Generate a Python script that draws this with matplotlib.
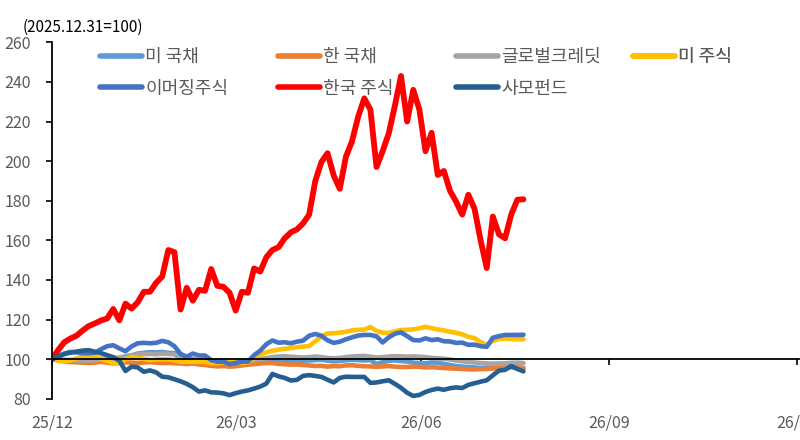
import matplotlib
matplotlib.use('Agg')
import matplotlib.pyplot as plt
import pandas as pd
from matplotlib.lines import Line2D

plt.rcParams['font.family'] = ['Noto Sans CJK KR', 'DejaVu Sans']

# ---------------- data ----------------
start_date = '2025-12-31'
step = '3D'

us_treasury = [100, 99.8, 99.6, 99.5, 99.4, 99.6, 99.8, 100, 100.2, 100, 99.8, 100.5, 101, 101.8, 102.8, 103.2,
               103.5, 103.4, 103.6, 103.2, 103, 101.5, 100.5, 100, 99.5, 99.3, 98.8, 98.5, 98.6, 98.4, 98.5, 98.7,
               99, 99, 99.2, 99.4, 99.5, 99, 98.5, 98.8, 98.9, 99.2, 99.3, 99.5, 99.7, 99.2, 98.9, 99.1,
               99.4, 99.6, 99.5, 99.3, 99.5, 97.5, 98.5, 99.1, 99.3, 99, 98.8, 98.2, 98, 97.9, 98.3, 98.2,
               97.6, 97, 96.5, 96.2, 96, 95.8, 95.5, 95.6, 95.4, 95.6, 95.8, 96, 95.8, 95.6]
kr_treasury = [100, 99.4, 98.8, 98.5, 98.4, 98.2, 98, 98.2, 98.6, 98.2, 97.8, 98, 98.4, 98.2, 98, 98.3,
               98.5, 98.2, 98, 98.1, 97.9, 97.8, 97.5, 97.8, 97.3, 97, 96.6, 96.3, 96.5, 96.2, 96.4, 96.8,
               97.2, 97.4, 97.8, 98, 98, 97.6, 97.4, 97.2, 97.3, 97, 96.8, 96.5, 96.6, 96.2, 96.5, 96.4,
               96.8, 96.9, 96.6, 96.4, 96.3, 96.1, 96.3, 96.5, 96.2, 96, 96, 96.2, 96.1, 95.8, 95.9, 95.7,
               95.5, 95.3, 95.2, 95, 94.8, 94.8, 94.9, 95, 95.3, 95.6, 95.8, 95.9, 95.6, 95.3]
global_credit = [100, 99.6, 99.3, 99.5, 99.4, 99.2, 99.3, 99.5, 99.8, 100.2, 100.5, 100.8, 101.5, 102, 102.4, 102.6,
                 102.6, 102.5, 102.7, 102.6, 102.3, 100.5, 99.5, 99.3, 99, 98.8, 98.5, 98.2, 98.4, 98, 98.1, 98.6,
                 99, 99.4, 100, 100.5, 101, 101.3, 101.5, 101.2, 101, 100.8, 101, 101.3, 101, 100.6, 100.4, 100.6,
                 101, 101.3, 101.5, 101.6, 101.2, 100.8, 101, 101.3, 101.5, 101.4, 101.2, 101.4, 101.2, 101, 100.6, 100.4,
                 100.2, 99.8, 99.3, 98.9, 98.6, 98.3, 98, 97.8, 97.7, 97.8, 97.9, 98.1, 98.2, 98]
us_equity = [100, 99.2, 98.8, 99.3, 100.3, 101.2, 101.4, 101.5, 100.3, 99, 98, 98.2, 99.8, 101, 100.6, 100.1,
             99.5, 99.8, 99.9, 99.9, 99.3, 98.7, 98.7, 98.7, 98.7, 98.6, 98, 97.9, 98.4, 99.1, 98.3, 98,
             98.4, 100.5, 102.3, 103.4, 104.2, 104.8, 105.2, 105.6, 106, 106.3, 106.6, 109, 111.5, 113, 113, 113.4,
             113.8, 114.5, 114.8, 114.9, 116.2, 114.2, 113.3, 113.2, 114, 114.7, 114.8, 115, 115.5, 116.3, 115.6, 115,
             114.5, 113.8, 113.3, 112.5, 111.3, 110.6, 108.5, 107.1, 109.2, 110.2, 110.4, 110.1, 110, 110]
em_equity = [100, 101.5, 102.8, 103.6, 103.4, 103, 103, 103.2, 105, 106.5, 107, 105.4, 104, 106.4, 108, 108.2,
             108, 108.2, 109.2, 108.5, 106.5, 102.6, 101.2, 102.8, 101.8, 101.8, 99.5, 98.7, 98.7, 97.5, 98, 98.7,
             98.7, 102, 104.2, 107.5, 109.4, 108.3, 108.5, 108, 108.8, 109.3, 111.8, 112.7, 111.8, 109.5, 108.2, 108.8,
             110, 111, 111.9, 112.2, 112.2, 111.5, 108.4, 111, 112.8, 113.5, 111.6, 109.6, 109.4, 110.5, 109.6, 110,
             109, 108.9, 108.2, 108.3, 107.2, 107.3, 106.5, 106.2, 110.8, 111.6, 112.2, 112.2, 112.2, 112.3]
kr_equity = [100, 104.5, 108.5, 110.4, 111.8, 114.4, 116.7, 118, 119.5, 120.5, 125.3, 119.6, 128, 125.5, 128.7, 134,
             134, 138.5, 141.7, 155.1, 154, 125, 136, 129.5, 135, 134.5, 145.5, 137, 136.5, 133.5, 124.5, 134,
             133.5, 145.8, 144.2, 151.4, 155.1, 156.5, 161, 164, 165.5, 168.5, 173, 190, 199.5, 204, 192.8, 186,
             202.2, 210, 222.4, 231.7, 226, 197, 205, 214, 228, 243, 220, 236, 226, 205, 214.3, 193,
             195, 185, 179.5, 173, 183, 176, 160, 146, 172, 163, 161, 173, 180.5, 180.7]
private_equity = [100, 101.3, 102.5, 103.3, 103.8, 104.3, 104.5, 103.7, 103, 102, 101, 99.2, 94, 96.2, 95.8, 93.6,
                  94.3, 93.3, 91.1, 90.8, 89.8, 88.8, 87.5, 85.8, 83.6, 84.2, 83.2, 83.1, 82.7, 81.8, 82.8, 83.6,
                  84.2, 85.1, 86.1, 87.6, 92.5, 91.3, 90.5, 89.2, 89.5, 91.5, 91.9, 91.5, 91, 89.6, 88.2, 90.5,
                  91.1, 91, 91, 91, 88, 88.2, 88.8, 89.3, 87.5, 85.5, 83, 81.4, 81.9, 83.4, 84.4, 85.1,
                  84.5, 85.3, 85.7, 85.4, 87, 87.8, 88.6, 89.3, 91.8, 94.2, 94.6, 96.5, 95, 93.8]

series_names = ['미 국채', '한 국채', '글로벌크레딧', '미 주식', '이머징주식', '한국 주식', '사모펀드']
series_values = [us_treasury, kr_treasury, global_credit, us_equity, em_equity, kr_equity, private_equity]
series_colors = ['#5B9BD5', '#ED7D31', '#A5A5A5', '#FFC000', '#4472C4', '#FF0000', '#255E91']

x_tick_dates = ['2025-12-31', '2026-03-31', '2026-06-30', '2026-09-30', '2026-12-31']
x_tick_labels = ['25/12', '26/03', '26/06', '26/09', '26/12']
y_ticks = [80, 100, 120, 140, 160, 180, 200, 220, 240, 260]
unit_label = '(2025.12.31=100)'

# ---------------- figure ----------------
W, H = 800, 440
fig = plt.figure(figsize=(W / 100, H / 100), dpi=100)
ax_left, ax_right, ax_top, ax_bottom = 52, 799, 42.3, 398.7
ax = fig.add_axes([ax_left / W, 1 - ax_bottom / H, (ax_right - ax_left) / W, (ax_bottom - ax_top) / H])

dates = pd.date_range(start_date, periods=len(kr_equity), freq=step)
for name, vals, col in zip(series_names, series_values, series_colors):
    lw = 4.2 if name == '한국 주식' else 3.3
    ax.plot(dates, vals, color=col, lw=lw, solid_joinstyle='round', solid_capstyle='round')

ax.set_ylim(80, 260)
ax.set_xlim(pd.Timestamp('2025-12-31'), pd.Timestamp('2027-01-01'))
ax.set_yticks(y_ticks)
ax.set_xticks(pd.to_datetime(x_tick_dates))
ax.set_xticklabels(x_tick_labels)

for s in ['top', 'right']:
    ax.spines[s].set_visible(False)
ax.spines['bottom'].set_position(('data', 100))
ax.spines['bottom'].set_color('black')
ax.spines['left'].set_color('black')
ax.spines['bottom'].set_linewidth(1.3)
ax.spines['left'].set_linewidth(1.3)

ax.tick_params(axis='y', direction='out', length=4, width=1.2, pad=11, labelsize=11.5, labelcolor='#595959')
ax.tick_params(axis='x', direction='out', length=4, width=1.2, pad=36, labelsize=11.5, labelcolor='#595959')

fig.text(23 / W, 1 - 27 / H, unit_label, ha='left', va='center', fontsize=11, color='black')

# legend: 4 columns placed like the reference
col_x = [100, 278, 456, 633]
col_entries = [[0, 4], [1, 5], [2, 6], [3]]
legend_top = 48
for cx, entries in zip(col_x, col_entries):
    handles = [Line2D([0], [0], color=series_colors[i], lw=4, solid_capstyle='round') for i in entries]
    labels = [series_names[i] for i in entries]
    leg = ax.legend(handles, labels, loc='upper left', bbox_to_anchor=(cx / W, 1 - legend_top / H),
                    bbox_transform=fig.transFigure, frameon=False, fontsize=13, handlelength=2.3,
                    handletextpad=0.2, borderpad=0, borderaxespad=0, labelspacing=0.75,
                    labelcolor='#595959')
    ax.add_artist(leg)

fig.savefig('out.png', dpi=100)
